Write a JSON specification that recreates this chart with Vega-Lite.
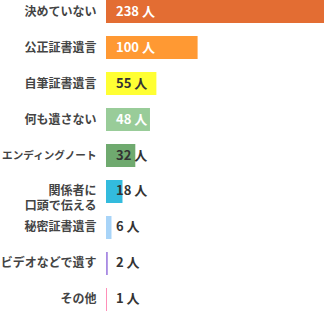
{
  "$schema": "https://vega.github.io/schema/vega-lite/v6.json",
  "width": 218,
  "height": 311,
  "autosize": {"type": "none"},
  "padding": {"left": 106, "top": 0, "right": 0, "bottom": 1},
  "background": "white",
  "config": {"view": {"stroke": null}},
  "data": {
    "values": [
      {"cat": "決めていない", "n": 238},
      {"cat": "公正証書遺言", "n": 100},
      {"cat": "自筆証書遺言", "n": 55},
      {"cat": "何も遺さない", "n": 48},
      {"cat": "エンディングノート", "n": 32},
      {"cat": "関係者に\n口頭で伝える", "n": 18},
      {"cat": "秘密証書遺言", "n": 6},
      {"cat": "ビデオなどで遺す", "n": 2},
      {"cat": "その他", "n": 1}
    ]
  },
  "encoding": {
    "y": {
      "field": "cat",
      "type": "nominal",
      "sort": null,
      "scale": {"paddingInner": 0.36, "paddingOuter": 0},
      "axis": {
        "title": null,
        "ticks": false,
        "domain": false,
        "labelPadding": 10,
        "labelFont": "Noto Sans CJK JP",
        "labelFontSize": {"condition": {"test": "datum.value == 'エンディングノート'", "value": 10.6}, "value": 12},
        "labelFontWeight": "bold",
        "labelColor": "#444444",
        "labelLineHeight": 15,
        "labelExpr": "split(datum.label, '\\n')"
      }
    }
  },
  "layer": [
    {
      "mark": {"type": "bar"},
      "encoding": {
        "x": {"field": "n", "type": "quantitative", "scale": {"domain": [0, 238], "nice": false}, "axis": null},
        "color": {
          "field": "cat",
          "type": "nominal",
          "legend": null,
          "scale": {
            "domain": ["決めていない", "公正証書遺言", "自筆証書遺言", "何も遺さない", "エンディングノート", "関係者に\n口頭で伝える", "秘密証書遺言", "ビデオなどで遺す", "その他"],
            "range": ["#E36D33", "#FF9933", "#FFFF33", "#99CC99", "#6FAA6F", "#33BBDD", "#A8D4F8", "#A98BE3", "#FF85B2"]
          }
        }
      }
    },
    {
      "mark": {"type": "text", "align": "left", "baseline": "middle", "dx": 10, "font": "Noto Sans CJK JP", "fontSize": 13, "fontWeight": "bold"},
      "encoding": {
        "x": {"datum": 0, "type": "quantitative"},
        "text": {"field": "label"},
        "color": {
          "condition": {"test": "datum.n == 238 || datum.n == 100 || datum.n == 48", "value": "#FFFFFF"},
          "value": "#333333"
        }
      },
      "transform": [{"calculate": "datum.n + ' 人'", "as": "label"}]
    }
  ]
}
